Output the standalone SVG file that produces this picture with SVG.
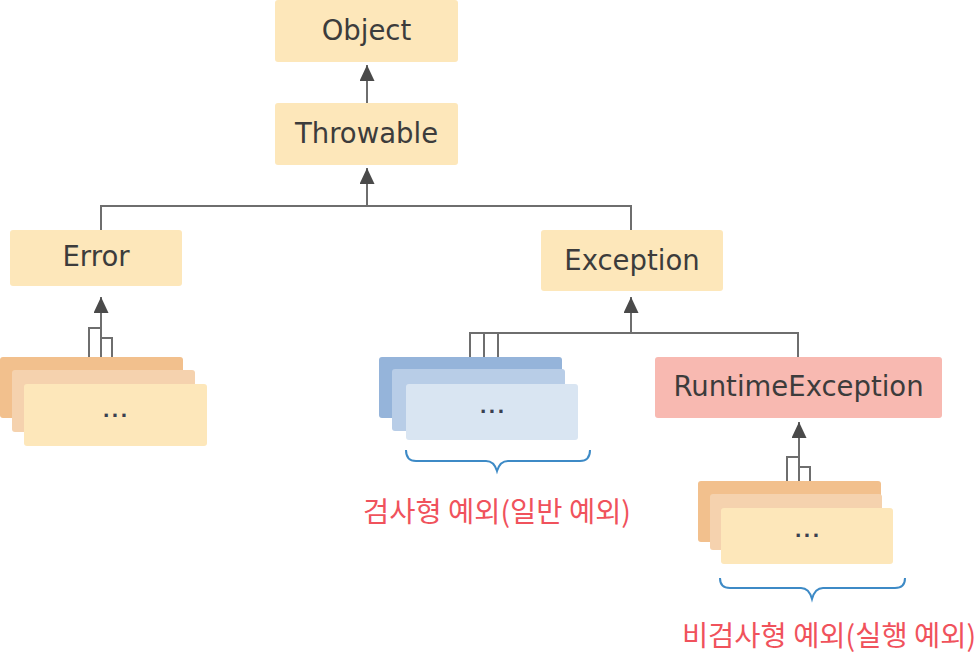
<svg xmlns="http://www.w3.org/2000/svg" width="977" height="653" viewBox="0 0 977 653">
<defs>
<style>
.node{fill:#FDE7BA}
.lbl{font-family:"DejaVu Sans","Liberation Sans",sans-serif;font-size:27.5px;fill:#3c3c3c;text-anchor:middle;dominant-baseline:central}
.dots{font-family:"DejaVu Sans","Liberation Sans",sans-serif;font-size:18px;font-weight:bold;fill:#3a4050;text-anchor:middle;dominant-baseline:central;letter-spacing:2px}
.con{fill:none;stroke:#6e6e6e;stroke-width:2}
.brace{fill:none;stroke:#3d8ac6;stroke-width:2}
.kr{font-family:"Noto Sans CJK KR",sans-serif;font-size:28.5px;font-weight:400;fill:#F0525C;text-anchor:middle}
.o1{fill:#F2C08D}.o2{fill:#F5D2AE}.o3{fill:#FDE7BA}
.b1{fill:#95B4DA}.b2{fill:#B8CDE7}.b3{fill:#D9E5F2}
</style>
<marker id="arr" viewBox="0 0 16 15" refX="16" refY="7.5" markerWidth="16" markerHeight="15" markerUnits="userSpaceOnUse" orient="auto">
<path d="M0,0 L16,7.5 L0,15 Z" fill="#4a4a4a"/>
</marker>
</defs>
<rect width="977" height="653" fill="#ffffff"/>

<g id="connectors">
<line class="con" x1="367" y1="103" x2="367" y2="65" marker-end="url(#arr)"/>
<line class="con" x1="367" y1="206" x2="367" y2="168" marker-end="url(#arr)"/>
<polyline class="con" points="101,230 101,206 631,206 631,230"/>
<line class="con" x1="631" y1="333" x2="631" y2="297" marker-end="url(#arr)"/>
<polyline class="con" points="470,357 470,333 798,333 798,357"/>
<line class="con" x1="484" y1="333" x2="484" y2="369"/>
<line class="con" x1="498" y1="333" x2="498" y2="383"/>
<line class="con" x1="101" y1="370" x2="101" y2="297" marker-end="url(#arr)"/>
<polyline class="con" points="89,357 89,328 101,328"/>
<polyline class="con" points="101,338 112,338 112,383"/>
<line class="con" x1="799" y1="494" x2="799" y2="422" marker-end="url(#arr)"/>
<polyline class="con" points="787,481 787,457 799,457"/>
<polyline class="con" points="799,467 810,467 810,508"/>
</g>

<g id="node-object">
<rect class="node" x="275" y="0" width="183" height="62" rx="3"/>
<text class="lbl" x="366.5" y="30">Object</text>
</g>
<g id="node-throwable">
<rect class="node" x="275" y="103" width="183" height="62" rx="3"/>
<text class="lbl" x="366.5" y="133">Throwable</text>
</g>
<g id="node-error">
<rect class="node" x="10" y="230" width="172" height="56" rx="3"/>
<text class="lbl" x="96" y="256">Error</text>
</g>
<g id="node-exception">
<rect class="node" x="541" y="230" width="182" height="61" rx="3"/>
<text class="lbl" x="632" y="260">Exception</text>
</g>
<g id="node-runtime">
<rect x="655" y="357" width="287" height="61" rx="3" fill="#F8B9B1"/>
<text class="lbl" x="798.5" y="386">RuntimeException</text>
</g>

<g id="stack-error">
<rect class="o1" x="0" y="357" width="183" height="61" rx="3"/>
<rect class="o2" x="12" y="370" width="183" height="62" rx="3"/>
<rect class="o3" x="24" y="384" width="183" height="62" rx="3"/>
<text class="dots" x="116" y="410">...</text>
</g>

<g id="stack-checked">
<rect class="b1" x="379" y="357" width="183" height="61" rx="3"/>
<rect class="b2" x="392" y="369" width="173" height="62" rx="3"/>
<rect class="b3" x="406" y="384" width="172" height="56" rx="3"/>
<text class="dots" x="493" y="406">...</text>
</g>

<g id="stack-unchecked">
<rect class="o1" x="698" y="481" width="183" height="61" rx="3"/>
<rect class="o2" x="710" y="494" width="172" height="56" rx="3"/>
<rect class="o3" x="721" y="508" width="172" height="56" rx="3"/>
<text class="dots" x="808" y="530">...</text>
</g>

<g id="brace-checked">
<path class="brace" d="M406,450 Q406,461 416,461 L486,461 Q494,461 497,471 Q500,461 508,461 L580,461 Q590,461 590,450"/>
<text class="kr" x="497" y="522">검사형 예외(일반 예외)</text>
</g>
<g id="brace-unchecked">
<path class="brace" d="M720,578 Q720,588 730,588 L801,588 Q809,588 812,599 Q815,588 823,588 L895,588 Q905,588 905,578"/>
<text class="kr" x="829" y="646">비검사형 예외(실행 예외)</text>
</g>
</svg>
